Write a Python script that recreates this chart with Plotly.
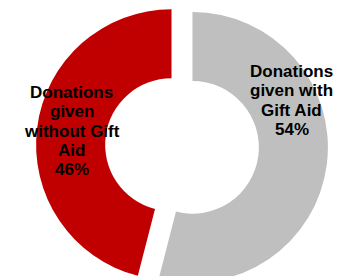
import plotly.graph_objects as go

# Data
labels = ["Donations given with Gift Aid", "Donations given without Gift Aid"]
label_lines = [["Donations", "given with", "Gift Aid"],
               ["Donations", "given", "without Gift", "Aid"]]
values = [54, 46]
colors = ["#BFBFBF", "#C00000"]

W, H = 338, 292
total = sum(values)
pcts = [round(v / total * 100) for v in values]

fig = go.Figure(go.Pie(
    labels=labels,
    values=values,
    hole=0.49,
    sort=False,
    direction="clockwise",
    rotation=0,
    pull=[0.078, 0.078],
    marker=dict(colors=colors, line=dict(width=0)),
    textinfo="none",
    hoverinfo="label+percent",
    showlegend=False,
    domain=dict(x=[34 / W, 330 / W], y=[0, 1]),
))

# label block centres (pixels from top-left) and line spacing
label_pos = [(291.5, 100.5), (71.5, 131)]
line_step = 19.3
for (px, py), lines, p in zip(label_pos, label_lines, pcts):
    all_lines = lines + [f"{p}%"]
    n = len(all_lines)
    for i, txt in enumerate(all_lines):
        ly = py + (i - (n - 1) / 2) * line_step
        fig.add_annotation(
            x=px / W, y=1 - ly / H, xref="paper", yref="paper",
            text=txt, showarrow=False,
            font=dict(family="Liberation Sans", size=17, color="black", weight="bold"),
            align="center", xanchor="center", yanchor="middle",
        )

fig.update_layout(
    width=W, height=H,
    margin=dict(l=0, r=0, t=0, b=0),
    paper_bgcolor="white", plot_bgcolor="white",
)

fig.write_html(
    "out.html",
    config={"displayModeBar": False},
    post_script="document.body.style.margin='0';document.body.style.overflow='hidden';",
)
